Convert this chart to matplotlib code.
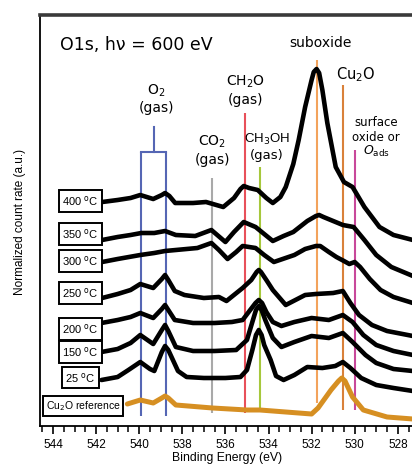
import matplotlib
matplotlib.use("Agg")
import matplotlib.pyplot as plt
from matplotlib.ticker import MultipleLocator, FixedLocator

# ---------------- data ----------------
temps = ["400", "350", "300", "250", "200", "150", "25"]

E_400 = [541.72, 541.0, 540.4, 539.95, 539.35, 538.95, 538.8, 538.6, 538.33, 537.5, 536.9, 536.1,
         535.6, 535.3, 535.15, 534.9, 534.5, 534.1, 533.8, 533.45, 533.2, 532.85, 532.6, 532.3,
         532.0, 531.9, 531.77, 531.65, 531.5, 531.27, 530.88, 530.5, 530.1, 529.55, 528.85,
         528.2, 527.3]
I_400 = [2.24, 2.26, 2.28, 2.31, 2.27, 2.31, 2.33, 2.30, 2.23, 2.23, 2.24, 2.19,
         2.28, 2.37, 2.40, 2.38, 2.36, 2.28, 2.23, 2.29, 2.39, 2.62, 2.86, 3.19,
         3.46, 3.54, 3.57, 3.53, 3.36, 3.03, 2.59, 2.44, 2.39, 2.19, 1.99,
         1.91, 1.86]

E_350 = [541.72, 541.0, 540.4, 539.9, 539.3, 538.8, 538.3, 537.4, 536.65, 536.0, 535.6, 535.15,
         534.6, 534.2, 533.8, 533.3, 532.85, 532.2, 531.8, 531.65, 531.45, 531.0, 530.55, 530.05,
         529.55, 529.0, 528.3, 527.3]
I_350 = [1.86, 1.89, 1.91, 1.93, 1.93, 1.95, 1.91, 1.90, 1.96, 1.84, 1.94, 2.04,
         1.99, 1.92, 1.85, 1.90, 1.94, 2.05, 2.10, 2.11, 2.09, 2.05, 2.01, 1.99,
         1.86, 1.71, 1.59, 1.50]

E_300 = [541.72, 541.0, 539.95, 539.3, 538.8, 538.3, 537.3, 536.65, 536.3, 535.9, 535.5, 535.2,
         534.6, 534.2, 533.75, 532.8, 532.3, 531.8, 531.6, 531.2, 530.85, 530.5, 530.25, 530.0,
         529.75, 529.3, 528.8, 528.2, 527.3]
I_300 = [1.64, 1.67, 1.71, 1.73, 1.75, 1.76, 1.78, 1.83, 1.76, 1.67, 1.74, 1.80,
         1.78, 1.71, 1.64, 1.71, 1.77, 1.80, 1.80, 1.74, 1.69, 1.65, 1.62, 1.64,
         1.59, 1.47, 1.36, 1.29, 1.23]

E_250 = [541.72, 541.0, 540.4, 539.95, 539.35, 538.95, 538.8, 538.65, 538.35, 537.9, 537.0, 536.3,
         535.95, 535.2, 534.8, 534.55, 534.45, 534.35, 534.1, 533.8, 533.2, 532.3, 531.8, 531.0,
         530.55, 530.2, 529.8, 529.2, 528.5, 527.3]
I_250 = [1.28, 1.32, 1.36, 1.42, 1.38, 1.47, 1.51, 1.46, 1.35, 1.31, 1.28, 1.29,
         1.25, 1.38, 1.46, 1.54, 1.56, 1.54, 1.46, 1.36, 1.21, 1.31, 1.32, 1.33,
         1.35, 1.23, 1.11, 1.01, 0.95, 0.90]

E_200 = [541.75, 541.0, 540.4, 539.95, 539.35, 538.95, 538.8, 538.65, 538.35, 537.5, 536.5, 535.7,
         535.2, 534.85, 534.6, 534.45, 534.3, 534.1, 533.8, 533.4, 532.8, 532.0, 531.2, 530.55,
         530.1, 529.6, 529.0, 528.2, 527.3]
I_200 = [1.03, 1.06, 1.09, 1.13, 1.08, 1.17, 1.21, 1.16, 1.06, 1.03, 1.03, 1.04,
         1.06, 1.16, 1.23, 1.26, 1.23, 1.14, 1.04, 1.00, 1.04, 1.08, 1.06, 1.11,
         1.04, 0.91, 0.81, 0.75, 0.71]

E_150 = [541.75, 541.0, 540.4, 539.95, 539.35, 538.95, 538.8, 538.65, 538.3, 537.5, 536.5, 535.5,
         535.0, 534.75, 534.58, 534.45, 534.32, 534.15, 533.8, 533.4, 532.8, 532.0, 531.2, 530.55,
         530.1, 529.5, 529.0, 528.2, 527.3]
I_150 = [0.74, 0.77, 0.83, 0.91, 0.82, 0.96, 1.01, 0.95, 0.79, 0.75, 0.75, 0.76,
         0.86, 1.04, 1.16, 1.20, 1.16, 1.06, 0.88, 0.79, 0.84, 0.90, 0.88, 0.93,
         0.84, 0.71, 0.63, 0.57, 0.55]

E_25 = [541.75, 541.0, 540.5, 539.95, 539.5, 539.3, 538.95, 538.8, 538.65, 538.5, 538.2, 537.8,
        537.0, 536.0, 535.3, 535.0, 534.75, 534.58, 534.45, 534.32, 534.2, 533.9, 533.65, 533.3,
        532.8, 532.2, 531.5, 530.9, 530.55, 530.2, 529.7, 529.0, 528.2, 527.3]
I_25 = [0.46, 0.49, 0.56, 0.64, 0.57, 0.55, 0.74, 0.80, 0.76, 0.69, 0.55, 0.49,
        0.48, 0.48, 0.49, 0.56, 0.76, 0.91, 0.96, 0.91, 0.81, 0.66, 0.50, 0.46,
        0.51, 0.59, 0.58, 0.60, 0.64, 0.58, 0.48, 0.41, 0.38, 0.35]

E_ref = [540.55, 539.95, 539.35, 538.95, 538.8, 538.65, 538.3, 536.6, 535.0, 534.4, 532.0, 531.7,
         531.1, 530.75, 530.6, 530.45, 530.1, 529.6, 528.5, 527.3]
I_ref = [0.22, 0.26, 0.23, 0.28, 0.30, 0.28, 0.21, 0.18, 0.16, 0.16, 0.12, 0.18,
         0.36, 0.45, 0.48, 0.45, 0.29, 0.16, 0.09, 0.07]

spectra_E = [E_400, E_350, E_300, E_250, E_200, E_150, E_25]
spectra_I = [I_400, I_350, I_300, I_250, I_200, I_150, I_25]
label_y = [2.25, 1.92, 1.65, 1.33, 0.97, 0.74, 0.485]   # label box centres (a.u.)

# reference lines: energy, bottom, top (a.u.)
line_E = [539.9, 538.75, 536.6, 535.1, 534.4, 531.77, 530.53, 530.0]
line_lo = [0.10, 0.10, 0.13, 0.13, 0.18, 0.23, 0.16, 0.16]
line_hi = [2.74, 2.74, 2.48, 3.13, 2.59, 3.66, 3.41, 2.76]
line_c = ["#5566b4", "#5566b4", "#a9a9a9", "#e8505a", "#a6c83c", "#f3a35c", "#d9813a", "#c8489a"]

xticks = [544, 542, 540, 538, 536, 534, 532, 530, 528]

# ---------------- figure ----------------
W, H = 412, 465
fig = plt.figure(figsize=(W / 100, H / 100), dpi=100)
ax = fig.add_axes([40 / W, 39 / H, 1 - 40 / W, (426 - 15) / H])

PX_PER_EV = 21.55
def ex(xpx):
    return 544 - (xpx - 53) / PX_PER_EV
def vy(ypx):
    return (426 - ypx) / 100

ax.set_xlim(ex(40), ex(W))
ax.set_ylim(0, vy(15))

# vertical marker lines
ax.vlines(line_E, line_lo, line_hi, colors=line_c, lw=1.5, zorder=1)
# O2 bracket
ax.plot([line_E[0], line_E[1]], [line_hi[0], line_hi[1]], color=line_c[0], lw=1.5, zorder=1)
mid = (line_E[0] + line_E[1]) / 2
ax.plot([mid, mid], [line_hi[0], vy(127)], color=line_c[0], lw=1.5, zorder=1)

# spectra
for Ev, Iv in zip(spectra_E, spectra_I):
    ax.plot(Ev, Iv, color="black", lw=3.3, solid_joinstyle="round",
            solid_capstyle="round", zorder=3)
ax.plot(E_ref, I_ref, color="#d68f22", lw=3.6, solid_joinstyle="round",
        solid_capstyle="round", zorder=3)

# temperature label boxes
lab_font = dict(family=["Liberation Sans", "DejaVu Sans"], fontsize=8)
for t, yl in zip(temps, label_y):
    ax.text(ex(80.5), yl, t + r" $^{\mathrm{o}}$C", ha="center", va="center",
            bbox=dict(boxstyle="square,pad=0.33", fc="white", ec="black", lw=1.4),
            zorder=5, **lab_font)
ax.text(ex(83), vy(406), r"Cu$_2$O reference", ha="center", va="center",
        bbox=dict(boxstyle="square,pad=0.3", fc="white", ec="black", lw=1.4),
        zorder=5, family=["Liberation Sans", "DejaVu Sans"], fontsize=7.5)

# annotations
ann = dict(family=["DejaVu Sans"], ha="center", va="center", zorder=6)
ax.text(ex(60), vy(45), "O1s, hν = 600 eV", ha="left", va="center",
        family=["DejaVu Sans"], fontsize=12.5)
ax.text(ex(320), vy(43), "suboxide", fontsize=10, **ann)
ax.text(ex(356), vy(75), r"Cu$_2$O", fontsize=10.5, **ann)
ax.text(ex(245), vy(82), r"CH$_2$O", fontsize=10, **ann)
ax.text(ex(245), vy(100), "(gas)", fontsize=10, **ann)
ax.text(ex(156), vy(91), r"O$_2$", fontsize=10, **ann)
ax.text(ex(156), vy(108), "(gas)", fontsize=10, **ann)
ax.text(ex(212), vy(142), r"CO$_2$", fontsize=10, **ann)
ax.text(ex(213), vy(160), "(gas)", fontsize=10, **ann)
ax.text(ex(267), vy(139), r"CH$_3$OH", fontsize=9.5,
        **{**ann, "family": ["Liberation Sans", "DejaVu Sans"]})
ax.text(ex(267), vy(155), "(gas)", fontsize=9.5, **ann)
ax.text(ex(376), vy(122), "surface", fontsize=8.5, **ann)
ax.text(ex(376), vy(137), "oxide or", fontsize=8.5, **ann)
ax.text(ex(376), vy(151), r"$O_{\mathregular{ads}}$", fontsize=9, **ann)

# axes styling
ax.spines["right"].set_visible(False)
ax.spines["top"].set_linewidth(2.6)
ax.spines["top"].set_color("#3a3a3a")
ax.spines["left"].set_linewidth(1.3)
ax.spines["bottom"].set_linewidth(1.3)

ax.xaxis.set_major_locator(FixedLocator(xticks))
ax.xaxis.set_minor_locator(MultipleLocator(0.5))
ax.tick_params(axis="x", which="major", direction="out", length=6, width=1.2,
               labelsize=8.5, pad=3)
ax.tick_params(axis="x", which="minor", direction="out", length=4, width=1.1)
for lbl in ax.get_xticklabels():
    lbl.set_family(["Liberation Sans", "DejaVu Sans"])
ax.set_yticks([])

ax.set_xlabel("Binding Energy (eV)", fontsize=8.8, family=["Liberation Sans", "DejaVu Sans"])
ax.xaxis.set_label_coords(ex(227), vy(451.5), transform=ax.transData)
fig.text(20 / W, 1 - 222 / H, "Normalized count rate (a.u.)", rotation=90,
         ha="center", va="center", fontsize=8.5, family=["Liberation Sans", "DejaVu Sans"])

fig.savefig("out.png", dpi=100)
